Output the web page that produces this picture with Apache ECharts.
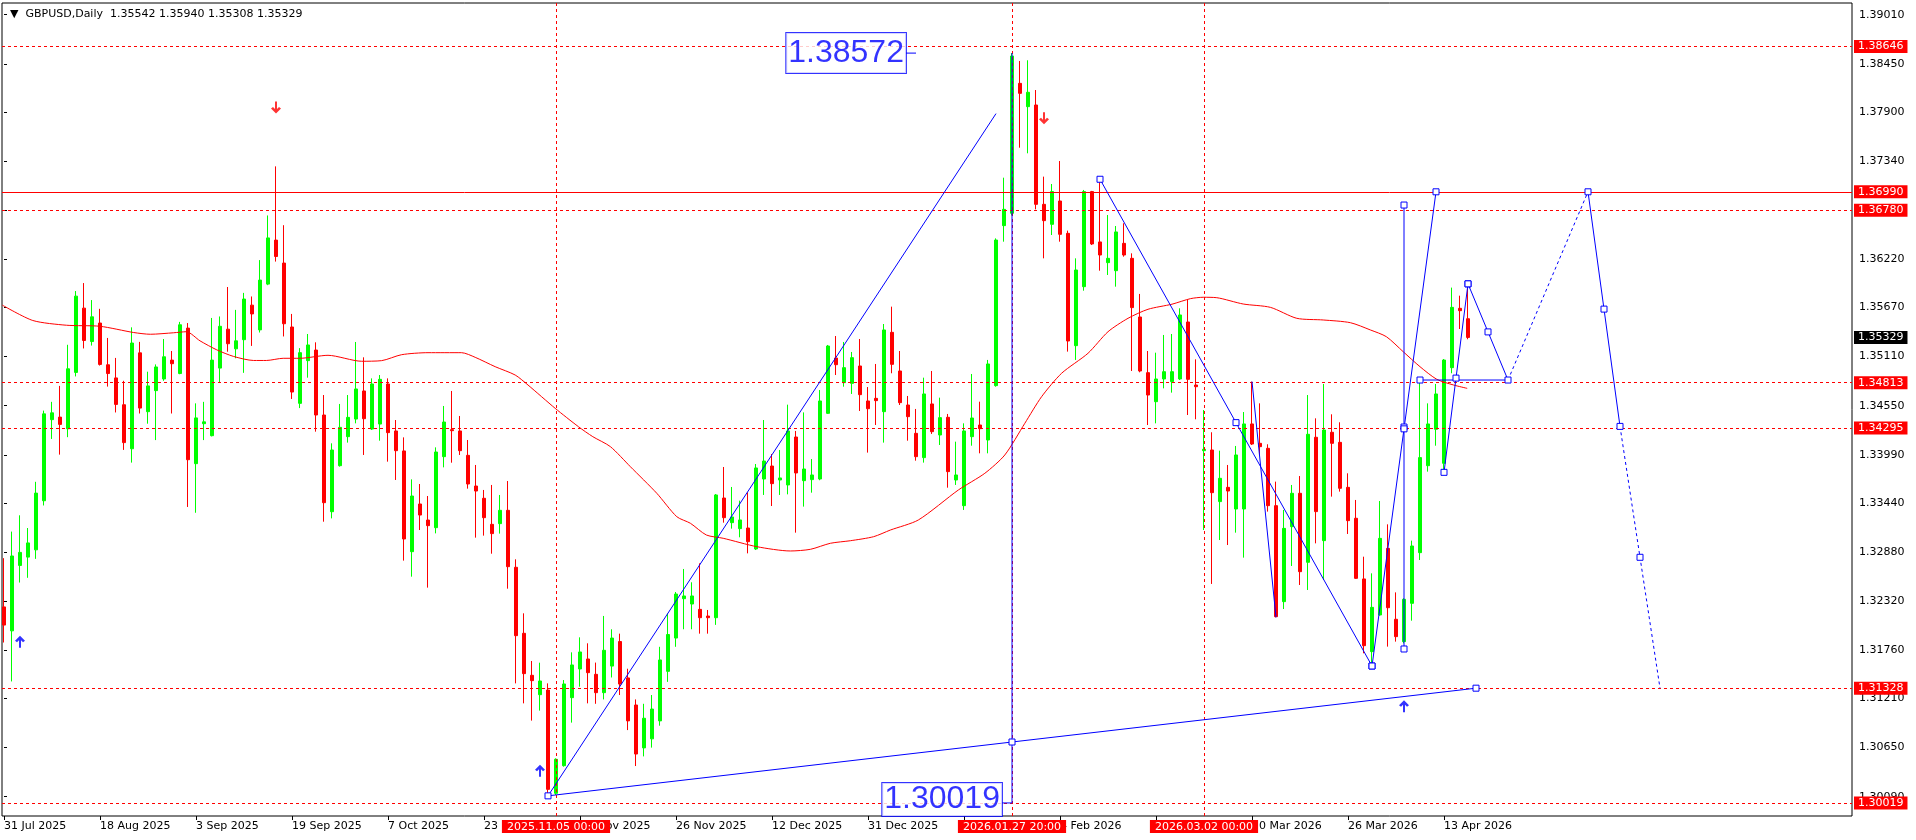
<!DOCTYPE html>
<html><head><meta charset="utf-8">
<script src="https://cdn.jsdelivr.net/npm/echarts@6/dist/echarts.min.js"></script>
<style>html,body{margin:0;padding:0;background:#fff;}#c{width:1916px;height:840px;}</style>
</head><body><div id="c"></div>
<script>
const symbolName = 'GBPUSD,Daily';
const dates = ["31 Jul 2025","1 Aug 2025","4 Aug 2025","5 Aug 2025","6 Aug 2025","7 Aug 2025","8 Aug 2025","11 Aug 2025","12 Aug 2025","13 Aug 2025","14 Aug 2025","15 Aug 2025","18 Aug 2025","19 Aug 2025","20 Aug 2025","21 Aug 2025","22 Aug 2025","25 Aug 2025","26 Aug 2025","27 Aug 2025","28 Aug 2025","29 Aug 2025","1 Sep 2025","2 Sep 2025","3 Sep 2025","4 Sep 2025","5 Sep 2025","8 Sep 2025","9 Sep 2025","10 Sep 2025","11 Sep 2025","12 Sep 2025","15 Sep 2025","16 Sep 2025","17 Sep 2025","18 Sep 2025","19 Sep 2025","22 Sep 2025","23 Sep 2025","24 Sep 2025","25 Sep 2025","26 Sep 2025","29 Sep 2025","30 Sep 2025","1 Oct 2025","2 Oct 2025","3 Oct 2025","6 Oct 2025","7 Oct 2025","8 Oct 2025","9 Oct 2025","10 Oct 2025","13 Oct 2025","14 Oct 2025","15 Oct 2025","16 Oct 2025","17 Oct 2025","20 Oct 2025","21 Oct 2025","22 Oct 2025","23 Oct 2025","24 Oct 2025","27 Oct 2025","28 Oct 2025","29 Oct 2025","30 Oct 2025","31 Oct 2025","3 Nov 2025","4 Nov 2025","5 Nov 2025","6 Nov 2025","7 Nov 2025","10 Nov 2025","11 Nov 2025","12 Nov 2025","13 Nov 2025","14 Nov 2025","17 Nov 2025","18 Nov 2025","19 Nov 2025","20 Nov 2025","21 Nov 2025","24 Nov 2025","25 Nov 2025","26 Nov 2025","27 Nov 2025","28 Nov 2025","1 Dec 2025","2 Dec 2025","3 Dec 2025","4 Dec 2025","5 Dec 2025","8 Dec 2025","9 Dec 2025","10 Dec 2025","11 Dec 2025","12 Dec 2025","15 Dec 2025","16 Dec 2025","17 Dec 2025","18 Dec 2025","19 Dec 2025","22 Dec 2025","23 Dec 2025","24 Dec 2025","26 Dec 2025","29 Dec 2025","30 Dec 2025","31 Dec 2025","2 Jan 2026","5 Jan 2026","6 Jan 2026","7 Jan 2026","8 Jan 2026","9 Jan 2026","12 Jan 2026","13 Jan 2026","14 Jan 2026","15 Jan 2026","16 Jan 2026","19 Jan 2026","20 Jan 2026","21 Jan 2026","22 Jan 2026","23 Jan 2026","26 Jan 2026","27 Jan 2026","28 Jan 2026","29 Jan 2026","30 Jan 2026","2 Feb 2026","3 Feb 2026","4 Feb 2026","5 Feb 2026","6 Feb 2026","9 Feb 2026","10 Feb 2026","11 Feb 2026","12 Feb 2026","13 Feb 2026","16 Feb 2026","17 Feb 2026","18 Feb 2026","19 Feb 2026","20 Feb 2026","23 Feb 2026","24 Feb 2026","25 Feb 2026","26 Feb 2026","27 Feb 2026","2 Mar 2026","3 Mar 2026","4 Mar 2026","5 Mar 2026","6 Mar 2026","9 Mar 2026","10 Mar 2026","11 Mar 2026","12 Mar 2026","13 Mar 2026","16 Mar 2026","17 Mar 2026","18 Mar 2026","19 Mar 2026","20 Mar 2026","23 Mar 2026","24 Mar 2026","25 Mar 2026","26 Mar 2026","27 Mar 2026","30 Mar 2026","31 Mar 2026","1 Apr 2026","2 Apr 2026","3 Apr 2026","6 Apr 2026","7 Apr 2026","8 Apr 2026","9 Apr 2026","10 Apr 2026","13 Apr 2026","14 Apr 2026","15 Apr 2026","16 Apr 2026"];

// [open, high, low, close]
const candles = [
[1.32255,1.32811,1.31849,1.32048],[1.31982,1.33114,1.31405,1.32836],[1.32728,1.33300,1.32533,1.32877],[1.32823,1.33155,1.32587,1.32985],
[1.32906,1.33682,1.32803,1.33553],[1.33466,1.34494,1.33412,1.34457],[1.34391,1.34594,1.34171,1.34469],[1.34420,1.34776,1.33992,1.34337],
[1.34287,1.35245,1.34191,1.34971],[1.34930,1.35858,1.34884,1.35800],[1.35663,1.35949,1.35203,1.35294],[1.35282,1.35755,1.35236,1.35564],
[1.35493,1.35655,1.35008,1.35021],[1.35017,1.35323,1.34768,1.34917],[1.34867,1.35095,1.34473,1.34565],[1.34561,1.34834,1.34046,1.34129],
[1.34059,1.35444,1.33901,1.35265],[1.35153,1.35278,1.34461,1.34523],[1.34482,1.34938,1.34345,1.34776],[1.34722,1.35021,1.34158,1.34992],
[1.34855,1.35311,1.34834,1.35108],[1.35070,1.35174,1.34461,1.35029],[1.34917,1.35506,1.34909,1.35473],[1.35435,1.35493,1.33395,1.33934],
[1.33889,1.34577,1.33329,1.34411],[1.34345,1.34594,1.34158,1.34366],[1.34208,1.35551,1.34200,1.35070],[1.34979,1.35568,1.34818,1.35456],
[1.35423,1.35904,1.35166,1.35257],[1.35199,1.35643,1.35091,1.35290],[1.35303,1.35837,1.34925,1.35767],[1.35697,1.35796,1.35232,1.35597],
[1.35415,1.36211,1.35385,1.35983],[1.35937,1.36720,1.35925,1.36464],[1.36439,1.37280,1.36194,1.36252],[1.36177,1.36609,1.35340,1.35485],
[1.35448,1.35597,1.34627,1.34706],[1.34577,1.35207,1.34523,1.35155],[1.35064,1.35368,1.34870,1.35243],[1.35185,1.35273,1.34254,1.34444],
[1.34444,1.34672,1.33227,1.33444],[1.33341,1.34121,1.33265,1.34045],[1.33866,1.34570,1.33855,1.34303],[1.34197,1.34672,1.34129,1.34417],
[1.34398,1.35277,1.34349,1.34741],[1.34718,1.35102,1.33988,1.34402],[1.34284,1.34862,1.34273,1.34798],[1.34341,1.34900,1.34151,1.34851],
[1.34798,1.34862,1.33912,1.34243],[1.34262,1.34387,1.33703,1.34037],[1.34034,1.34189,1.32783,1.33030],[1.32885,1.33710,1.32600,1.33520],
[1.33429,1.33657,1.33132,1.33303],[1.33246,1.33520,1.32475,1.33182],[1.33159,1.34075,1.33094,1.34022],[1.33969,1.34547,1.33847,1.34364],
[1.34277,1.34718,1.33900,1.34265],[1.34262,1.34433,1.33988,1.34037],[1.33984,1.34159,1.33604,1.33657],[1.33634,1.33874,1.33045,1.33577],
[1.33494,1.33589,1.33068,1.33273],[1.33197,1.33646,1.32862,1.33091],[1.33205,1.33532,1.33091,1.33357],[1.33357,1.33691,1.32463,1.32714],
[1.32707,1.32798,1.31383,1.31927],[1.31954,1.32182,1.31155,1.31494],[1.31475,1.31638,1.30958,1.31414],[1.31254,1.31619,1.31072,1.31410],
[1.31307,1.31383,1.30100,1.30174],[1.30129,1.30528,1.30110,1.30517],[1.30444,1.31421,1.30433,1.31376],[1.31220,1.31737,1.30935,1.31593],
[1.31547,1.31908,1.31345,1.31741],[1.31661,1.31840,1.31155,1.31505],[1.31486,1.31620,1.31150,1.31277],[1.31277,1.32152,1.31200,1.31760],
[1.31580,1.32000,1.31450,1.31900],[1.31860,1.31950,1.31250,1.31375],[1.31445,1.31550,1.30850,1.30955],[1.31136,1.31200,1.30440,1.30577],
[1.30647,1.31150,1.30550,1.30985],[1.30750,1.31250,1.30650,1.31090],[1.30955,1.31800,1.30900,1.31650],[1.31520,1.32180,1.31400,1.31940],
[1.31900,1.32425,1.31800,1.32402],[1.32349,1.32688,1.32000,1.32380],[1.32288,1.32536,1.32000,1.32380],[1.32227,1.32752,1.31950,1.32132],
[1.32151,1.32220,1.31950,1.32132],[1.32132,1.33543,1.32050,1.33532],[1.33497,1.33851,1.33216,1.33273],[1.33216,1.33623,1.33148,1.33281],
[1.33148,1.33467,1.33049,1.33247],[1.33155,1.33562,1.32866,1.32999],[1.32916,1.33885,1.32904,1.33840],[1.33714,1.34387,1.33532,1.33919],
[1.33862,1.33999,1.33406,1.33661],[1.33703,1.34045,1.33532,1.33726],[1.33646,1.34562,1.33539,1.34262],[1.34193,1.34262,1.33102,1.33783],
[1.33695,1.34474,1.33399,1.33828],[1.33707,1.33942,1.33558,1.33760],[1.33714,1.34729,1.33700,1.34604],[1.34463,1.35243,1.34456,1.35231],
[1.35094,1.35345,1.34900,1.35018],[1.34813,1.35277,1.34767,1.34984],[1.34805,1.35163,1.34684,1.35098],[1.35003,1.35311,1.34490,1.34676],
[1.34604,1.34763,1.34015,1.34516],[1.34634,1.35026,1.34330,1.34608],[1.34482,1.35482,1.34129,1.35414],[1.35387,1.35680,1.34920,1.35022],
[1.34946,1.35174,1.34558,1.34585],[1.34558,1.34661,1.34151,1.34425],[1.34235,1.34513,1.33923,1.33969],[1.33958,1.34870,1.33901,1.34684],
[1.34570,1.34946,1.34228,1.34254],[1.34216,1.34642,1.34102,1.34414],[1.34418,1.34456,1.33615,1.33798],[1.33703,1.34140,1.33646,1.33760],
[1.33410,1.34349,1.33361,1.34262],[1.34197,1.34912,1.34094,1.34410],[1.34330,1.34596,1.34007,1.34288],[1.34159,1.35072,1.34007,1.35026],
[1.34779,1.36459,1.34767,1.36440],[1.36604,1.37151,1.36421,1.36790],[1.36745,1.38572,1.36720,1.38539],[1.38227,1.38482,1.37493,1.38113],
[1.37961,1.38490,1.37429,1.38125],[1.37980,1.38151,1.36790,1.36847],[1.36847,1.37163,1.36231,1.36661],[1.36619,1.37079,1.36497,1.36992],
[1.36885,1.37341,1.36421,1.36505],[1.36516,1.36547,1.35167,1.35288],[1.35235,1.36231,1.35072,1.36098],[1.35908,1.37011,1.35862,1.36992],
[1.36992,1.37000,1.36383,1.36395],[1.36418,1.37106,1.36090,1.36269],[1.36182,1.36725,1.36041,1.36231],[1.36090,1.36600,1.35908,1.36532],
[1.36402,1.36631,1.36250,1.36269],[1.36231,1.36288,1.34946,1.35669],[1.35562,1.35825,1.34931,1.34946],[1.34927,1.35174,1.34330,1.34672],
[1.34596,1.35155,1.34349,1.34855],[1.34855,1.35357,1.34748,1.34938],[1.34825,1.35368,1.34699,1.34938],[1.34855,1.35661,1.34843,1.35585],
[1.35505,1.35756,1.34444,1.34851],[1.34786,1.35079,1.34395,1.34767],[1.34037,1.34501,1.33132,1.34053],[1.34045,1.34247,1.32517,1.33558],
[1.33456,1.34037,1.33018,1.33722],[1.33619,1.33874,1.32961,1.33577],[1.33372,1.34091,1.33102,1.33988],[1.33372,1.34478,1.32817,1.34342],
[1.34342,1.34825,1.34102,1.34113],[1.34121,1.34577,1.33988,1.34083],[1.34064,1.34110,1.33342,1.33410],[1.33410,1.33684,1.32136,1.32144],
[1.32315,1.33361,1.32231,1.33151],[1.33170,1.33646,1.32722,1.33551],[1.33551,1.33748,1.32505,1.32657],[1.32764,1.34672,1.32448,1.34224],
[1.34190,1.34406,1.32980,1.33342],[1.33011,1.34798,1.32562,1.34273],[1.34247,1.34452,1.33513,1.34121],[1.34132,1.34361,1.33570,1.33608],
[1.33619,1.33779,1.33087,1.33239],[1.33266,1.33475,1.32574,1.32581],[1.32574,1.32828,1.31726,1.31813],[1.31745,1.32638,1.31612,1.32250],
[1.32163,1.33463,1.32155,1.33037],[1.32923,1.33197,1.31802,1.32246],[1.32114,1.32421,1.31859,1.31916],[1.31859,1.32353,1.31840,1.32342],
[1.32296,1.33011,1.32098,1.32950],[1.32874,1.34843,1.32790,1.33958],[1.33866,1.34577,1.33798,1.34342],[1.34281,1.34798,1.34094,1.34684],
[1.33893,1.35083,1.33790,1.35071],[1.34984,1.35897,1.34920,1.35672],[1.35661,1.35805,1.35425,1.35634],[1.35542,1.35940,1.35308,1.35329]
];

// moving average: bar position and value
const maX = [-0.2,3.6,7.8,12,16.2,18.3,21.2,22.8,24.5,26.6,28.7,31.2,32.8,34.9,37,40.5,44.7,47.2,49.7,53,57.2,58.9,61.4,63.9,65.5,68.9,71.8,73.6,75.8,78.3,81.6,84.1,85.8,87.8,89.9,94.1,98.3,100.8,103.3,105.8,108.7,110.8,114.3,119.3,122.6,125.1,127.6,129.7,132.2,135.5,138,140.5,143,146,148.3,149.9,151.6,154.9,158.3,161.6,164.9,168.3,170.8,172.8,174.9,177,179.1,181.2,182.9];
const maY = [1.35697,1.35522,1.35468,1.35456,1.35385,1.35365,1.35382,1.35394,1.35290,1.35187,1.35112,1.35066,1.35066,1.35091,1.35091,1.35125,1.35057,1.35064,1.35132,1.35155,1.35155,1.35102,1.34995,1.34900,1.34786,1.34520,1.34311,1.34197,1.34083,1.33854,1.33551,1.33284,1.33209,1.33075,1.33038,1.32942,1.32893,1.32912,1.32981,1.33010,1.33056,1.33132,1.33247,1.33589,1.33779,1.33988,1.34349,1.34653,1.34920,1.35148,1.35394,1.35547,1.35650,1.35708,1.35771,1.35787,1.35782,1.35710,1.35672,1.35547,1.35528,1.35497,1.35414,1.35337,1.35166,1.34995,1.34851,1.34786,1.34748];

const yTicks = [1.39010,1.38450,1.37900,1.37340,1.36780,1.36220,1.35670,1.35110,1.34550,1.33990,1.33440,1.32880,1.32320,1.31760,1.31210,1.30650,1.30090];
const xLabelIdx = [0,12,24,36,48,60,72,84,96,108,120,132,144,156,168,180];
const yMin = 1.298701, yMax = 1.391435;
const xMin = -0.25, xMax = 231;

const hDashed = [1.38646,1.36780,1.34813,1.34295,1.31328,1.30019];
const hSolid = 1.36990;
const lastPrice = 1.35329;
const vLines = [69,126,150];
const vLabels = ['2025.11.05 00:00','2026.01.27 20:00','2026.03.02 00:00'];

const upArrows = [[2,1.31857],[67,1.30387],[175,1.31121]];
const downArrows = [[34,1.37952],[130,1.37828]];

// drawn objects: [bar, price, square?]
const trendLines = [
  {pts:[[68,1.30100,0],[124,1.37882,0]], dash:false},
  {pts:[[68,1.30100,1],[126,1.30714,1],[184,1.31328,1]], dash:false},
  {pts:[[126,1.38572,0],[126,1.30019,0]], dash:false},
  {pts:[[112.75,1.38572,0],[114,1.38572,0]], dash:false},
  {pts:[[124.75,1.30019,0],[126,1.30019,0]], dash:false},
  {pts:[[137,1.37133,1],[154,1.34357,1],[171,1.31581,1]], dash:false},
  {pts:[[156,1.34825,0],[159,1.32136,0]], dash:false},
  {pts:[[175,1.36839,1],[175,1.34307,1],[175,1.31775,1]], dash:false},
  {pts:[[171,1.31581,1],[175,1.34286,1],[179,1.36990,1]], dash:false},
  {pts:[[177,1.34843,1],[188,1.34843,0]], dash:false},
  {pts:[[180,1.33790,1],[181.5,1.34865,1],[183,1.35940,1]], dash:false},
  {pts:[[183,1.35940,1],[185.5,1.35392,1],[188,1.34843,1]], dash:false},
  {pts:[[188,1.34843,0],[198,1.36990,0]], dash:true},
  {pts:[[198,1.36990,1],[200,1.35652,1],[202,1.34314,1]], dash:false},
  {pts:[[202,1.34314,0],[204.5,1.32821,1],[207,1.31328,0]], dash:true}
];
const priceBoxes = [
  {x:114, y:1.38572, text:'1.38572', pad:[5,2,5,2], lh:30, off:[0,0]},
  {x:126, y:1.30019, text:'1.30019', pad:[5,2,0,2], lh:28, off:[0,-3.5]}
];

const FONT = 'DejaVu Sans';
const BLUE = '#0000ff';
const chart = echarts.init(document.getElementById('c'), null, {width:1916, height:840});

const series = [];
series.push({
  type:'candlestick', silent:true, barWidth:4, clip:true,
  data: candles.map((c,i)=>[i,c[0],c[3],c[2],c[1]]),
  itemStyle:{color:'#00ff00', color0:'#ff0000', borderColor:'#00ff00', borderColor0:'#ff0000', borderWidth:1},
  markLine:{
    symbol:['none','none'], silent:true, animation:false, precision:5,
    label:{show:true, position:'end', distance:2, formatter:p=>Number(p.value).toFixed(5), color:'#ffffff', backgroundColor:'#ff0000', padding:[1,4,0,4], fontFamily:FONT, fontSize:11, lineHeight:12},
    lineStyle:{color:'#ff0000', width:1, type:[3,3]},
    emphasis:{disabled:true},
    data:[
      ...hDashed.map(v=>({yAxis:v})),
      {yAxis:hSolid, lineStyle:{type:'solid', color:'#ff0000'}},
      {yAxis:lastPrice, lineStyle:{color:'rgba(0,0,0,0)'}, label:{backgroundColor:'#000000'}},
      ...vLines.map((x,i)=>({xAxis:x, label:{position:'start', distance:4, formatter:vLabels[i], padding:[1,5,0,5]}}))
    ]
  }
});
series.push({
  type:'line', silent:true, showSymbol:false, smooth:0.25, clip:true,
  data: maX.map((x,i)=>[x,maY[i]]),
  lineStyle:{color:'#ff0000', width:1}, z:3
});
trendLines.forEach(t=>{
  series.push({
    type:'line', silent:true, clip:true, z:6,
    data: t.pts.map(p=>({value:[p[0],p[1]], symbol: p[2] ? 'rect' : 'none'})),
    symbolSize:6, showSymbol:true,
    itemStyle:{color:'#ffffff', borderColor:BLUE, borderWidth:1},
    lineStyle:{color:BLUE, width:1, type: t.dash ? [3,3] : 'solid'}
  });
});
series.push({
  type:'scatter', silent:true, z:7, symbol:'circle', symbolSize:0.1,
  itemStyle:{color:'rgba(0,0,0,0)'},
  data: priceBoxes.map(b=>({value:[b.x,b.y], label:{show:true, position:'left', distance:10, offset:b.off, formatter:b.text,
    fontFamily:'Liberation Sans', fontSize:32, color:BLUE, borderColor:BLUE, borderWidth:1, padding:b.pad, lineHeight:b.lh, backgroundColor:'#ffffff'}}))
});
const arrowUp = 'path://M5,0L10,5L8,6.5L6,4.5L6,12L4,12L4,4.5L2,6.5L0,5Z';
const arrowDown = 'path://M5,12L10,7L8,5.5L6,7.5L6,0L4,0L4,7.5L2,5.5L0,7Z';
series.push({type:'scatter', silent:true, z:7, symbol:arrowUp, symbolSize:[10,12], itemStyle:{color:BLUE}, data:upArrows});
series.push({type:'scatter', silent:true, z:7, symbol:arrowDown, symbolSize:[10,12], itemStyle:{color:'#ff0000'}, data:downArrows});

const last = candles[candles.length-1];
const option = {
  animation:false,
  backgroundColor:'#ffffff',
  title:{text:'\u25BC  ' + symbolName + '  ' + last.map(v=>v.toFixed(5)).join(' '), left:5, top:4,
    textStyle:{fontFamily:FONT, fontSize:11, fontWeight:'normal', color:'#000000'}},
  grid:{left:2, right:64, top:3, bottom:24, show:true, borderColor:'#000000', borderWidth:1, backgroundColor:'#ffffff', outerBoundsMode:'none'},
  xAxis:{type:'value', min:xMin, max:xMax, axisLine:{show:false}, splitLine:{show:false},
    axisTick:{show:true, customValues:xLabelIdx, length:4, lineStyle:{color:'#000000'}},
    axisLabel:{show:true, customValues:xLabelIdx, formatter:v=>dates[Math.round(v)]||'', align:'left', margin:5, color:'#000000', fontFamily:FONT, fontSize:11}},
  yAxis:{type:'value', position:'right', min:yMin, max:yMax, axisLine:{show:false}, splitLine:{show:false},
    axisTick:{show:true, customValues:yTicks, length:3, lineStyle:{color:'#000000'}},
    axisLabel:{show:true, customValues:yTicks, formatter:v=>Number(v).toFixed(5), margin:7, color:'#000000', fontFamily:FONT, fontSize:11}},
  series
};
chart.setOption(option);
</script>
</body></html>
